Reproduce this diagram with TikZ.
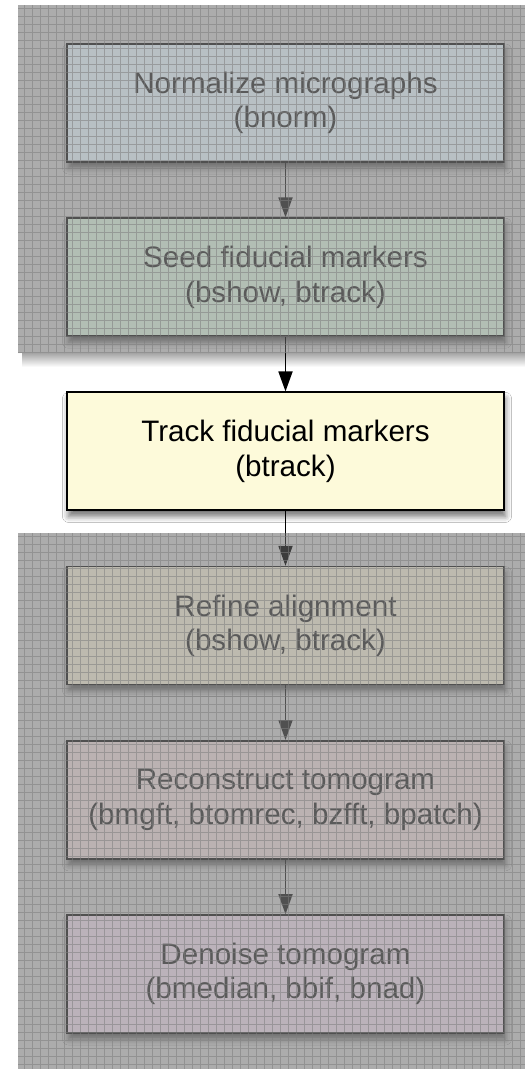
\documentclass[tikz,border=0pt]{standalone}
\usepackage{fontspec}
\setmainfont{Liberation Sans}
\usetikzlibrary{arrows.meta,shadows.blur}

\definecolor{paneFill}{HTML}{BCBCBC}
\definecolor{veilGray}{HTML}{969696}
\definecolor{gridGray}{HTML}{7E7E7E}
\definecolor{lineDark}{HTML}{222222}
\definecolor{textDark}{HTML}{333333}
\definecolor{fillNorm}{RGB}{207,220,227}
\definecolor{fillSeed}{RGB}{197,218,200}
\definecolor{fillTrack}{RGB}{253,250,218}
\definecolor{fillRefine}{RGB}{215,210,193}
\definecolor{fillRecon}{RGB}{213,197,197}
\definecolor{fillDenoise}{RGB}{212,197,210}

\begin{document}
\begin{tikzpicture}[x=1pt,y=-1pt,
  stepbox/.style={draw=lineDark, line width=1.6pt, text=textDark,
    minimum width=437pt, minimum height=118pt, inner sep=0pt,
    align=center, font=\fontsize{29.6}{34.5}\selectfont,
    blur shadow={shadow xshift=1.5pt, shadow yshift=-6pt,
      shadow blur radius=6pt, shadow opacity=55}},
  activebox/.style={stepbox, draw=black, text=black, line width=2pt},
  flow/.style={draw=lineDark, line width=1.8pt,
    -{Triangle[length=20pt,width=14pt]}},
  pane/.style={fill=paneFill}]

\useasboundingbox (0,0) rectangle (525,1069);
\fill[white] (0,0) rectangle (525,1069);

% soft shadow cast by the upper pane onto the page
\shade[top color=black!35, bottom color=white] (22,353) rectangle (525,367);

% dimmed panes above and below the current step
\path[pane] (18,5) rectangle (525,353);
\path[pane] (18,533) rectangle (525,1069);

% pipeline steps
\node[stepbox, fill=fillNorm]    (n1) at (285.5,103)   {Normalize micrographs\\(bnorm)};
\node[stepbox, fill=fillSeed]    (n2) at (285.5,277.2) {Seed fiducial markers\\(bshow, btrack)};
\node[activebox, fill=fillTrack] (n3) at (285.5,451.4) {Track fiducial markers\\(btrack)};
\node[stepbox, fill=fillRefine]  (n4) at (285.5,625.6) {Refine alignment\\(bshow, btrack)};
\node[stepbox, fill=fillRecon]   (n5) at (285.5,799.8) {Reconstruct tomogram\\(bmgft, btomrec, bzfft, bpatch)};
\node[stepbox, fill=fillDenoise] (n6) at (285.5,974)   {Denoise tomogram\\(bmedian, bbif, bnad)};

% connectors
\draw[flow] (n1.south) -- (n2.north);
\draw[flow, draw=black] (n2.south) -- (n3.north);
\draw[flow, draw=black] (n3.south) -- (n4.north);
\draw[flow] (n4.south) -- (n5.north);
\draw[flow] (n5.south) -- (n6.north);

% translucent gridded veil over the dimmed panes
\begin{scope}
  \clip (18,5) rectangle (525,353) (18,533) rectangle (525,1069);
  \fill[veilGray, opacity=0.4] (0,0) rectangle (525,1069);
  \draw[gridGray, opacity=0.55, line width=0.7pt, step=8pt] (18,5) grid (525,1069);
\end{scope}
\end{tikzpicture}
\end{document}
